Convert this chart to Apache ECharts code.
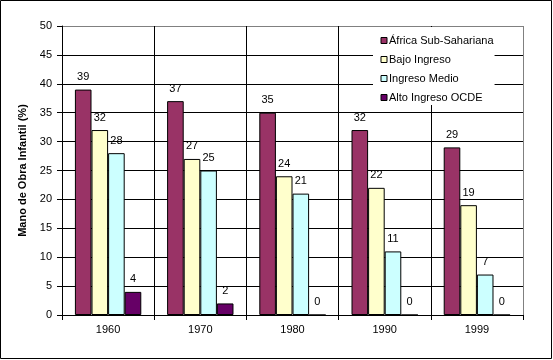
<!DOCTYPE html>
<html><head><meta charset="utf-8">
<script src="https://cdn.jsdelivr.net/npm/echarts@6/dist/echarts.min.js"></script>
<style>html,body{margin:0;padding:0;background:#fff}#c{width:553px;height:360px}</style>
</head><body><div id="c"></div>
<script>
const categories = ['1960','1970','1980','1990','1999'];
const africa = [39,37,35,32,29];
const bajo = [32,27,24,22,19];
const medio = [28,25,21,11,7];
const alto = [4,2,0,0,0];
const seriesNames = ['África Sub-Sahariana','Bajo Ingreso','Ingreso Medio','Alto Ingreso OCDE'];
const colors = ['#993366','#FFFFCC','#CCFFFF','#660066'];
const yTicks = {min:0,max:50,interval:5};

const chart = echarts.init(document.getElementById('c'));
const font = 'Liberation Sans, Arial, sans-serif';
const mk = (name, data, color) => ({
  name, type:'bar', data, barGap:'0%', barCategoryGap:'28%',
  itemStyle:{color, borderColor:'#000', borderWidth:1},
  label:{show:true, position:'top', distance:7, color:'#000', fontSize:11, fontFamily:font},
  animation:false
});
chart.setOption({
  animation:false,
  color: colors,
  grid:{left:62, right:30, top:26, bottom:45},
  legend:{
    orient:'vertical', left:373, top:27,
    padding:[8,1,2,7.5], itemGap:8, itemWidth:6, itemHeight:6, icon:'rect',
    backgroundColor:'#fff', borderWidth:0,
    textStyle:{fontSize:11, fontFamily:font, color:'#000', padding:[0,0,0,-3]},
    itemStyle:{borderColor:'#000', borderWidth:1},
    data: seriesNames
  },
  xAxis:{
    type:'category', data:categories,
    axisLine:{lineStyle:{color:'#000'}},
    axisTick:{show:true, alignWithLabel:false, length:5, lineStyle:{color:'#000'}},
    axisLabel:{fontSize:11, fontFamily:font, color:'#000', margin:9},
    splitLine:{show:true, lineStyle:{color:['#000','#000','#000','#000','#000','#808080'], width:1}}
  },
  yAxis:{
    type:'value', min:yTicks.min, max:yTicks.max, interval:yTicks.interval,
    name:'Mano de Obra Infantil (%)', nameLocation:'middle', nameGap:29.5,
    nameTextStyle:{fontSize:11, fontWeight:'bold', fontFamily:font, color:'#000'},
    axisLine:{show:true, lineStyle:{color:'#000'}},
    axisTick:{show:true, length:5, lineStyle:{color:'#000'}},
    axisLabel:{fontSize:11, fontFamily:font, color:'#000', margin:10},
    splitLine:{show:true, lineStyle:{color:['#000','#000','#000','#000','#000','#000','#000','#000','#000','#000','#808080']}}
  },
  graphic:[{type:'rect', shape:{x:0.5,y:0.5,width:551,height:358}, style:{fill:'none', stroke:'#000', lineWidth:1}, silent:true, z:100}],
  series:[mk(seriesNames[0],africa,colors[0]), mk(seriesNames[1],bajo,colors[1]), mk(seriesNames[2],medio,colors[2]), mk(seriesNames[3],alto,colors[3])]
});
</script></body></html>
